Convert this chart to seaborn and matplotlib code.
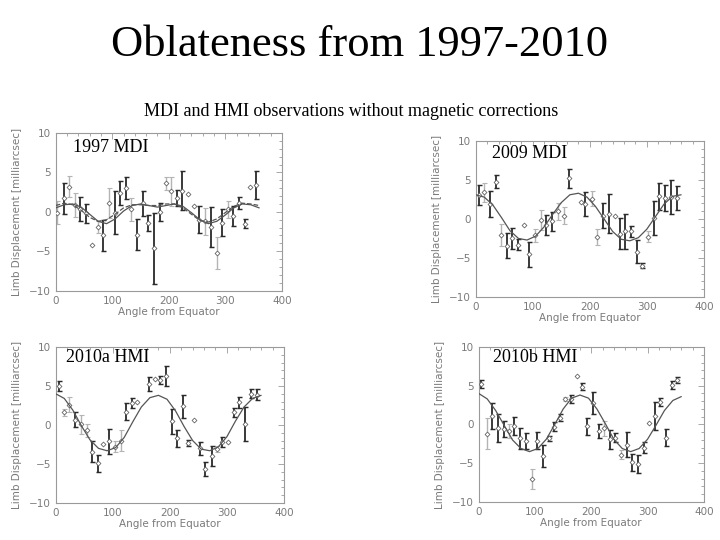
import numpy as np
import pandas as pd
import matplotlib
matplotlib.use("Agg")
import matplotlib.pyplot as plt
from matplotlib.ticker import MultipleLocator
import seaborn as sns

# ---------------- data ----------------
title = "Oblateness from 1997-2010"
subtitle = "MDI and HMI observations without magnetic corrections"
panel_names = ["1997 MDI", "2009 MDI", "2010a HMI", "2010b HMI"]
xlabel = "Angle from Equator"
ylabel = "Limb Displacement [milliarcsec]"
xticks = [0, 100, 200, 300, 400]
yticks = [-10, -5, 0, 5, 10]

curve_angle = [0, 15, 30, 45, 60, 75, 90, 105, 120, 135, 150, 165, 180,
               195, 210, 225, 240, 255, 270, 285, 300, 315, 330, 345, 360]

# 1997 MDI
ang_1997 = [3, 14, 24, 34, 43, 53, 64, 74, 84, 94, 104, 114, 124, 134, 144, 154, 164, 174,
            184, 195, 204, 214, 224, 234, 245, 254, 264, 274, 285, 294, 304, 314, 324, 334, 344, 354]
val_1997 = [-0.1, 1.7, 3.2, 0.9, 0.4, -0.2, -4.2, -1.9, -3.0, 1.1, -0.1, 2.4, 3.0, 0.3, -2.9, 1.1, -1.4, -4.6,
            0.0, 3.6, 2.6, 1.8, 2.7, 2.2, 0.8, -1.0, -1.2, -1.9, -5.2, -1.4, 0.3, -0.5, 1.1, -1.5, 3.2, 3.4]
err_1997 = [1.5, 2.0, 1.3, 1.5, 1.5, 1.2, 0.0, 0.8, 2.0, 1.9, 2.7, 1.5, 1.4, 1.5, 2.0, 1.6, 1.0, 4.5,
            1.1, 0.8, 1.8, 1.0, 2.5, 0.0, 0.0, 1.7, 1.7, 2.5, 2.0, 1.7, 1.1, 1.3, 0.8, 0.6, 0.0, 1.8]
dark_1997 = [0, 1, 0, 0, 1, 1, 0, 0, 1, 0, 1, 1, 1, 0, 1, 1, 1, 1,
             1, 0, 0, 1, 1, 0, 0, 1, 0, 1, 0, 1, 0, 1, 1, 1, 0, 1]
fit_1997 = [0.5, 0.9, 1.0, 0.6, -0.3, -1.2, -1.5, -0.9, 0.1, 0.8, 1.0, 0.8, 0.6,
            0.8, 1.0, 0.7, -0.1, -1.0, -1.5, -1.2, -0.4, 0.5, 1.0, 0.9, 0.5]
fit2_1997 = [0.8, 1.1, 0.9, 0.2, -0.7, -1.2, -1.0, -0.3, 0.5, 0.9, 0.9, 0.8, 0.8,
             1.0, 1.0, 0.5, -0.3, -1.1, -1.3, -0.9, -0.1, 0.7, 1.1, 1.0, 0.8]

# 2009 MDI
ang_2009 = [5, 15, 25, 35, 44, 54, 64, 74, 84, 94, 104, 114, 124, 134, 145, 154, 163,
            184, 192, 203, 213, 223, 233, 244, 253, 262, 273, 283, 292, 302, 312, 322, 332, 342, 352]
val_2009 = [3.1, 3.4, 1.9, 4.8, -2.1, -3.4, -2.5, -3.3, -0.8, -4.5, -2.1, -0.1, -0.8, -0.3, 1.0, 0.4, 5.2,
            2.2, 1.9, 2.6, -2.3, 0.4, 0.7, 0.4, -1.9, -1.6, -1.6, -4.2, -6.0, -2.3, 0.1, 2.9, 2.7, 2.8, 2.7]
err_2009 = [1.3, 1.2, 1.7, 0.8, 1.4, 1.6, 1.3, 0.7, 0.0, 1.6, 0.8, 1.3, 1.3, 1.2, 1.1, 1.1, 1.2,
            0.0, 1.5, 1.0, 1.0, 1.6, 2.5, 0.0, 2.0, 2.2, 0.7, 1.5, 0.3, 0.7, 2.2, 1.7, 1.7, 2.2, 1.5]
dark_2009 = [1, 0, 1, 1, 0, 1, 1, 1, 0, 1, 0, 0, 1, 1, 0, 0, 1,
             1, 1, 0, 0, 1, 1, 0, 1, 1, 1, 1, 1, 0, 1, 1, 1, 1, 1]
fit_2009 = [3.1, 2.8, 1.8, 0.2, -1.5, -2.5, -2.7, -2.2, -1.0, 0.6, 2.1, 3.1, 3.3,
            2.8, 1.6, 0.0, -1.6, -2.6, -2.8, -2.4, -1.3, 0.3, 1.9, 2.9, 3.1]

# 2010a HMI
ang_2010a = [5, 15, 24, 34, 44, 54, 64, 74, 83, 94, 104, 114, 124, 134, 143, 164, 174, 183,
             193, 203, 213, 223, 232, 242, 253, 262, 273, 282, 292, 302, 312, 322, 332, 342, 352]
val_2010a = [5.0, 1.6, 2.6, 0.7, 0.1, -0.7, -3.4, -4.9, -2.4, -2.1, -2.8, -2.0, 1.7, 2.8, 3.0, 5.2, 5.9, 5.8,
             6.3, 0.5, -1.7, 2.4, -2.3, 0.6, -3.0, -5.7, -4.0, -3.1, -2.2, -2.2, 1.6, 2.9, 0.1, 4.0, 3.9]
err_2010a = [0.6, 0.5, 1.0, 1.0, 1.2, 0.8, 1.3, 1.1, 0.0, 1.6, 0.7, 1.3, 1.1, 0.6, 0.0, 0.9, 0.0, 0.5,
             1.3, 1.6, 1.1, 1.5, 0.4, 0.0, 0.8, 0.9, 1.3, 0.4, 0.6, 0.0, 0.6, 0.7, 2.2, 0.6, 0.7]
dark_2010a = [1, 0, 0, 1, 0, 0, 1, 1, 0, 1, 0, 0, 1, 1, 0, 1, 0, 1,
              1, 1, 1, 1, 1, 0, 1, 1, 1, 0, 1, 0, 1, 1, 1, 1, 1]
fit_2010a = [4.0, 3.4, 1.9, -0.1, -1.9, -3.0, -3.3, -2.9, -1.6, 0.4, 2.3, 3.5, 3.8,
             3.3, 1.8, -0.2, -2.0, -3.1, -3.3, -2.8, -1.5, 0.5, 2.3, 3.4, 3.8]

# 2010b HMI
ang_2010b = [4, 14, 24, 34, 44, 53, 63, 73, 84, 94, 104, 114, 124, 133, 144, 153, 164, 174,
             184, 193, 203, 214, 223, 233, 243, 253, 263, 273, 283, 293, 303, 313, 323, 333, 343, 353]
val_2010b = [5.2, -1.2, 1.1, -0.5, -0.6, -0.9, -0.2, -1.8, -2.1, -7.0, -2.1, -4.1, -1.8, -0.3, 0.9, 3.3, 3.3, 6.3,
             4.9, -0.2, 2.8, -0.9, -0.5, -1.9, -1.7, -3.9, -2.6, -4.9, -5.1, -3.0, 0.2, 1.1, 2.9, -1.7, 5.1, 5.7]
err_2010b = [0.5, 2.0, 1.7, 1.8, 1.0, 0.9, 1.2, 1.3, 1.0, 1.3, 1.1, 1.4, 0.3, 0.6, 0.5, 0.3, 0.5, 0.0,
             0.4, 1.1, 1.4, 0.9, 1.0, 1.2, 0.6, 0.6, 1.6, 1.1, 1.2, 0.7, 0.0, 1.8, 0.5, 1.1, 0.5, 0.4]
dark_2010b = [1, 0, 1, 1, 1, 0, 1, 1, 1, 0, 1, 1, 1, 1, 1, 0, 1, 0,
              1, 1, 1, 1, 0, 1, 1, 0, 1, 1, 1, 1, 0, 1, 1, 1, 1, 1]
fit_2010b = [4.0, 3.3, 1.8, -0.1, -2.0, -3.1, -3.5, -3.1, -1.9, 0.0, 2.0, 3.4, 3.8,
             3.4, 2.0, 0.1, -1.9, -3.1, -3.5, -3.1, -1.9, -0.1, 1.8, 3.1, 3.6]

panels = [
    (ang_1997, val_1997, err_1997, dark_1997, [fit_1997, fit2_1997]),
    (ang_2009, val_2009, err_2009, dark_2009, [fit_2009]),
    (ang_2010a, val_2010a, err_2010a, dark_2010a, [fit_2010a]),
    (ang_2010b, val_2010b, err_2010b, dark_2010b, [fit_2010b]),
]

# ---------------- layout ----------------
sns.set_theme(style="white")
plt.rcParams['font.family'] = ['DejaVu Sans']

fig = plt.figure(figsize=(7.2, 5.4), dpi=100)
fig.patch.set_facecolor("white")

rects = [
    [0.0774, 0.4617, 0.314, 0.292],
    [0.6607, 0.4500, 0.317, 0.289],
    [0.0774, 0.0685, 0.317, 0.289],
    [0.6650, 0.0704, 0.3125, 0.287],
]
label_pos = [(0.077, 0.905), (0.07, 0.92), (0.045, 0.935), (0.062, 0.93)]

SERIF = "Liberation Serif"
fig.text(0.5, 1 - 45 / 540, title, ha="center", va="center",
         fontsize=32, family=SERIF, color="black")
fig.text(0.488, 1 - 112 / 540, subtitle, ha="center", va="center",
         fontsize=13, family=SERIF, color="black")

axis_grey = "#9a9a9a"
text_grey = "#7a7a7a"

for i, (ang, val, err, dark, fits) in enumerate(panels):
    ax = fig.add_axes(rects[i])
    ax.set_facecolor("white")
    df = pd.DataFrame({"angle": ang, "value": val, "err": err, "dark": dark})
    for flag, col, lw in [(0, "#b4b4b4", 1.0), (1, "#2a2a2a", 1.3)]:
        sub = df[(df["dark"] == flag) & (df["err"] > 0)]
        ax.errorbar(sub["angle"], sub["value"], yerr=sub["err"], fmt="none",
                    ecolor=col, elinewidth=lw, capsize=1.8, capthick=lw * 0.8, zorder=2)
    sns.scatterplot(data=df, x="angle", y="value", ax=ax, marker="D", s=6,
                    facecolor="white", edgecolor="#666666", linewidth=0.6,
                    zorder=3, legend=False)
    styles = ["-", "--"]
    for k, fit in enumerate(fits):
        cdf = pd.DataFrame({"angle": curve_angle, "fit": fit})
        sns.lineplot(data=cdf, x="angle", y="fit", ax=ax, color="#555555",
                     linewidth=0.9, linestyle=styles[k], zorder=4)
    ax.set_xlim(0, 400)
    ax.set_ylim(-10, 10)
    ax.set_xticks(xticks)
    ax.set_yticks(yticks)
    ax.xaxis.set_minor_locator(MultipleLocator(20))
    ax.yaxis.set_minor_locator(MultipleLocator(1))
    ax.tick_params(axis="both", which="both", direction="in", top=True, right=True,
                   color=axis_grey, labelcolor=text_grey, labelsize=7.5, width=0.6)
    ax.tick_params(which="major", length=4)
    ax.tick_params(which="minor", length=2)
    for sp in ax.spines.values():
        sp.set_color(axis_grey)
        sp.set_linewidth(0.8)
    ax.set_xlabel(xlabel, color=text_grey, fontsize=7.5, labelpad=1)
    ax.set_ylabel(ylabel, color=text_grey, fontsize=7.5, labelpad=5)
    ax.text(label_pos[i][0], label_pos[i][1], panel_names[i], transform=ax.transAxes,
            ha="left", va="center", fontsize=13, family=SERIF, color="black", zorder=6)

fig.savefig("out.png", dpi=100, facecolor="white")
